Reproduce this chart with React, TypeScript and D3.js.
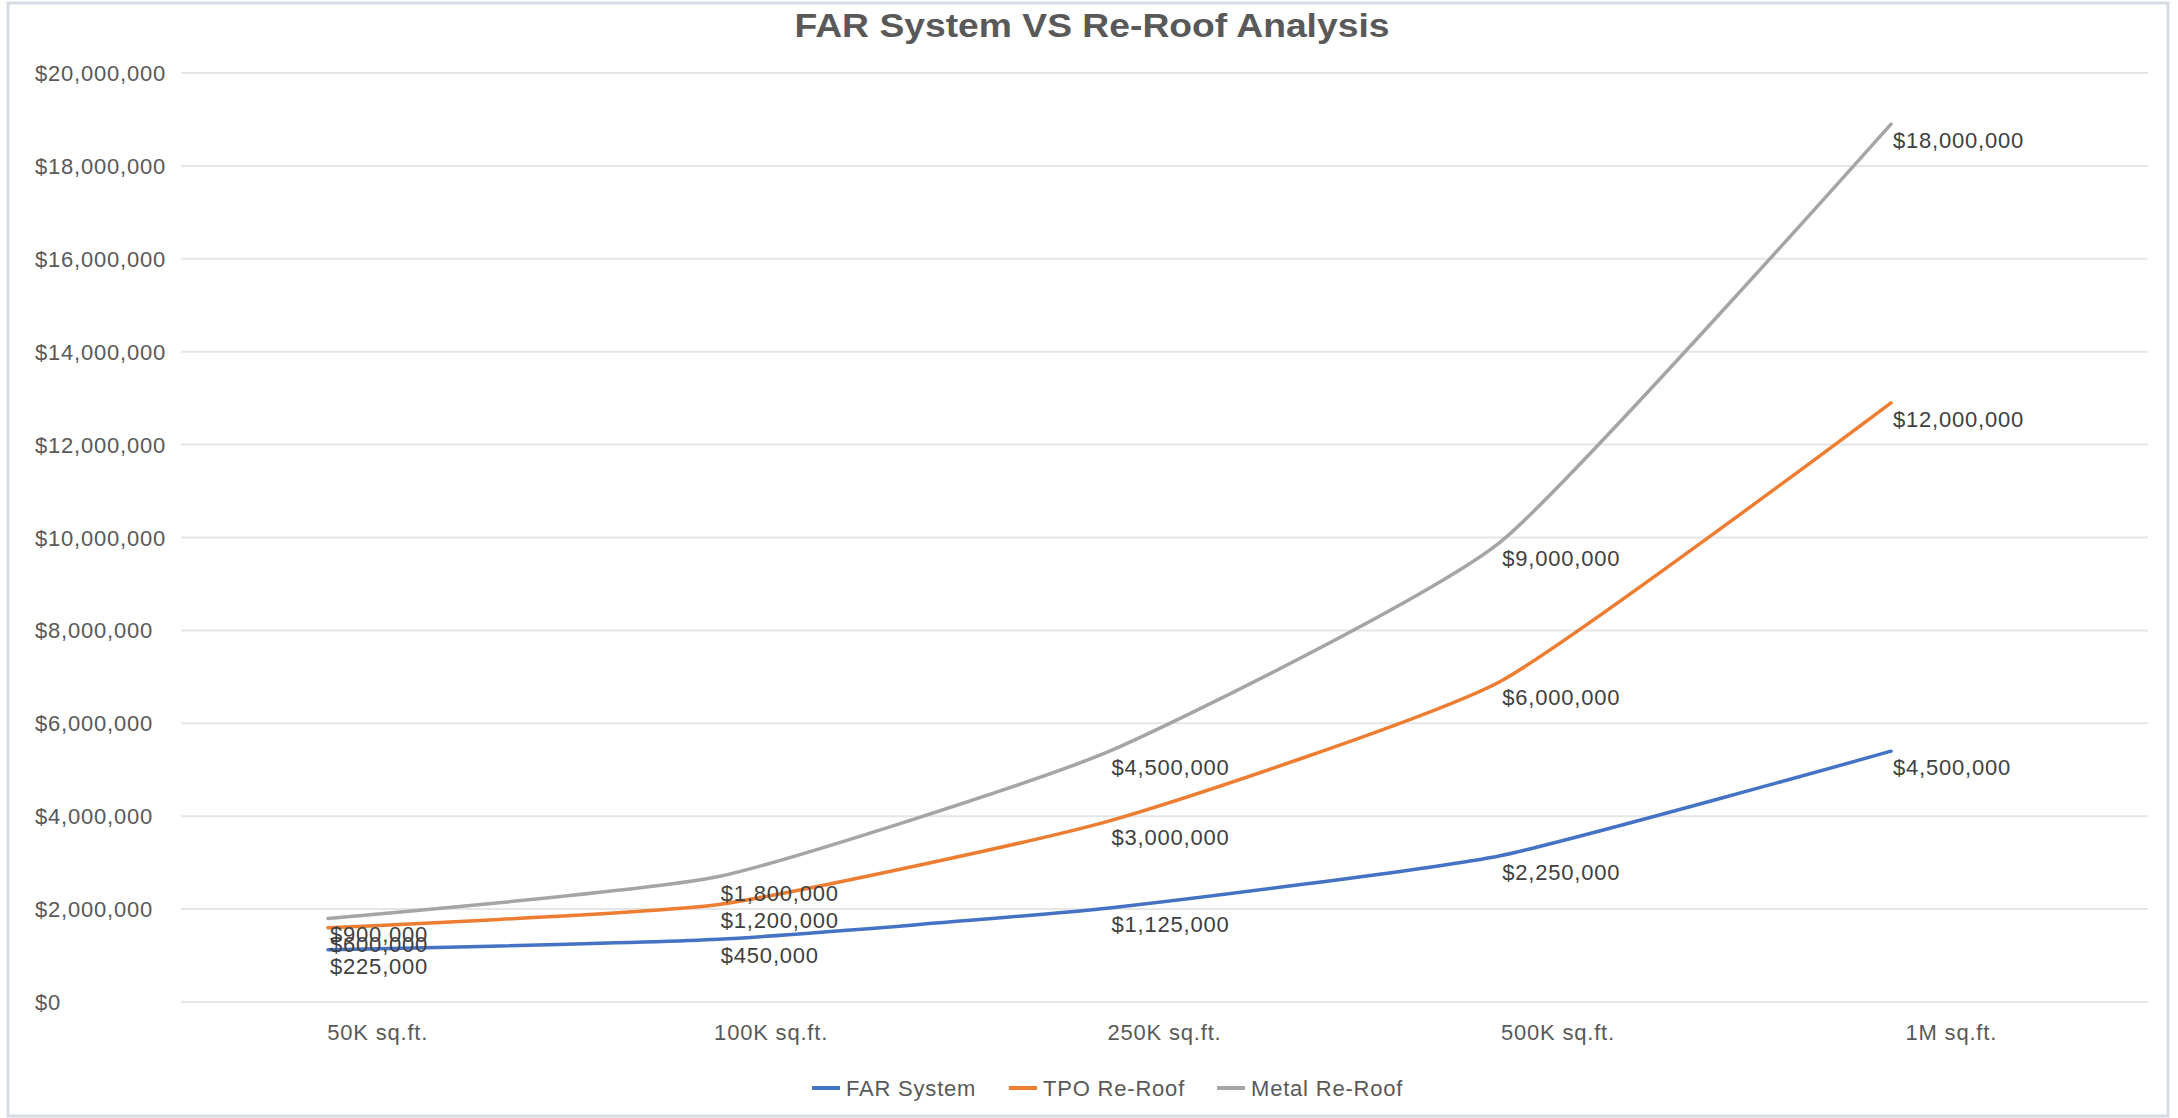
import React from "react";
import * as d3 from "d3";

// categories along the x axis
const categories = ["50K sq.ft.", "100K sq.ft.", "250K sq.ft.", "500K sq.ft.", "1M sq.ft."];

// y axis ticks
const yTicks = [0, 2000000, 4000000, 6000000, 8000000, 10000000, 12000000, 14000000, 16000000, 18000000, 20000000];

// plotted values
const farValues = [1125000, 1350000, 2025000, 3150000, 5400000];
const tpoValues = [1600000, 2100000, 3900000, 6900000, 12900000];
const metalValues = [1800000, 2700000, 5400000, 9900000, 18900000];

// data label values shown next to the points
const farLabels = [225000, 450000, 1125000, 2250000, 4500000];
const tpoLabels = [600000, 1200000, 3000000, 6000000, 12000000];
const metalLabels = [900000, 1800000, 4500000, 9000000, 18000000];

const seriesNames = ["FAR System", "TPO Re-Roof", "Metal Re-Roof"];
const seriesColors = ["#4472C4", "#ED7D31", "#A5A5A5"];

const W = 2178;
const H = 1118;
const FONT = "'Liberation Sans', Arial, sans-serif";

export default function App() {
    const series = [
        { name: seriesNames[0], values: farValues, labels: farLabels, color: seriesColors[0] },
        { name: seriesNames[1], values: tpoValues, labels: tpoLabels, color: seriesColors[1] },
        { name: seriesNames[2], values: metalValues, labels: metalLabels, color: seriesColors[2] },
    ];

    const gridLeft = 181;
    const gridRight = 2148;

    const y = d3.scaleLinear().domain([0, 20000000]).range([1002, 73]);

    // category labels sit centred in bands, the line points are a bit to the left
    const xBand = d3.scaleBand().domain(categories).range([gridLeft, gridRight]);
    const xPoint = d3.scalePoint().domain(categories).range([328, 1891]);

    const money = d3.format("$,");

    // light smoothing, closer to excel's look than full catmull-rom
    const line = d3.line<number>()
        .x((_, i) => xPoint(categories[i])!)
        .y(d => y(d))
        .curve(d3.curveCardinal.tension(0.5));

    const legendX = [812, 1009, 1217];
    const legendY = 1088;

    return (
        <div style={{ position: "absolute", left: 0, top: 0 }}>
            <svg width={W} height={H} style={{ display: "block", background: "#fff" }}>
                <rect x={8} y={3} width={2160} height={1113} fill="#fff" stroke="#D5DBE3" strokeWidth={3} />

                {/* title */}
                <text
                    x={1092}
                    y={37}
                    textAnchor="middle"
                    fontFamily={FONT}
                    fontWeight="bold"
                    fontSize={33}
                    fill="#595959"
                    textLength={595}
                    lengthAdjust="spacingAndGlyphs"
                >
                    FAR System VS Re-Roof Analysis
                </text>

                {/* gridlines + y labels */}
                {yTicks.map(t => (
                    <g key={t}>
                        <line x1={gridLeft} x2={gridRight} y1={y(t)} y2={y(t)} stroke="#E6E6E6" strokeWidth={2} />
                        <text
                            x={35}
                            y={y(t) + 8}
                            fontFamily={FONT}
                            fontSize={22}
                            letterSpacing={0.8}
                            fill="#595959"
                        >
                            {money(t)}
                        </text>
                    </g>
                ))}

                {/* x labels */}
                {categories.map(c => (
                    <text
                        key={c}
                        x={xBand(c)! + xBand.bandwidth() / 2}
                        y={1040}
                        textAnchor="middle"
                        fontFamily={FONT}
                        fontSize={22}
                        letterSpacing={0.8}
                        fill="#595959"
                    >
                        {c}
                    </text>
                ))}

                {/* lines */}
                {series.map(s => (
                    <path
                        key={s.name}
                        d={line(s.values)!}
                        fill="none"
                        stroke={s.color}
                        strokeWidth={3.5}
                        strokeLinecap="round"
                        strokeLinejoin="round"
                    />
                ))}

                {/* data labels */}
                {series.map(s =>
                    s.values.map((v, i) => (
                        <text
                            key={s.name + i}
                            x={xPoint(categories[i])! + 2}
                            y={y(v) + 24}
                            fontFamily={FONT}
                            fontSize={22}
                            letterSpacing={0.8}
                            fill="#404040"
                        >
                            {money(s.labels[i])}
                        </text>
                    ))
                )}

                {/* legend */}
                {series.map((s, i) => (
                    <g key={"lg" + s.name} transform={`translate(${legendX[i]},${legendY})`}>
                        <line x1={0} x2={28} y1={0} y2={0} stroke={s.color} strokeWidth={4} />
                        <text x={34} y={8} fontFamily={FONT} fontSize={22} letterSpacing={0.8} fill="#595959">
                            {s.name}
                        </text>
                    </g>
                ))}
            </svg>
        </div>
    );
}
